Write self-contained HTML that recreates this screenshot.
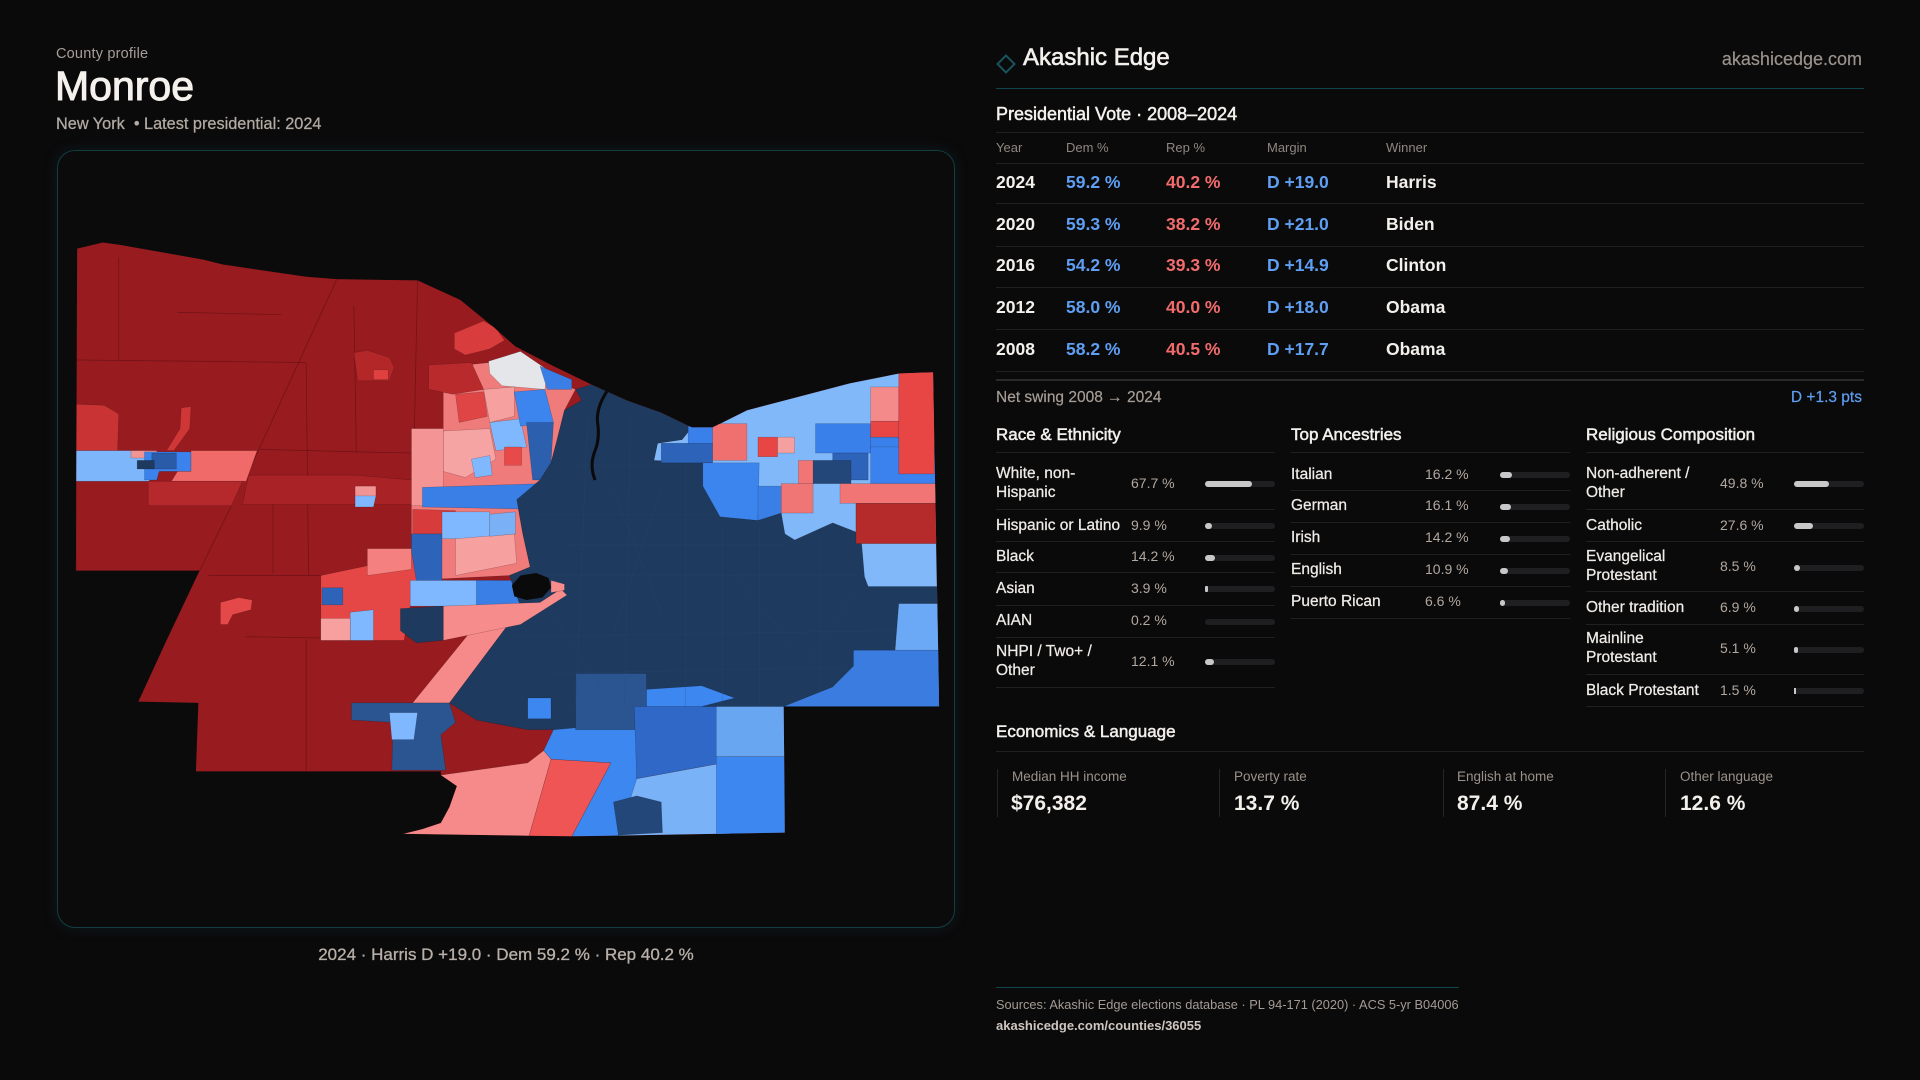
<!DOCTYPE html>
<html><head><meta charset="utf-8">
<style>
*{margin:0;padding:0;box-sizing:border-box}
body{width:1920px;height:1080px;background:#0b0a0b;overflow:hidden;position:relative;font-family:"Liberation Sans",sans-serif;color:#f2eeea}
.t{position:absolute;white-space:nowrap;line-height:1}
.w{color:#f3f0ec}
.g{color:#9a938b}
.b{color:#5e9ff3}
.r{color:#f26c6c}
.bold{font-weight:700}
.sec{font-size:17px;-webkit-text-stroke:0.5px #f3f0ec;color:#f3f0ec}
.hl{position:absolute;height:1px;background:#201f22}
.lab{position:absolute;font-size:15.5px;line-height:19px;color:#efebe7;-webkit-text-stroke:0.25px #efebe7;white-space:nowrap}
.val{position:absolute;font-size:14px;line-height:19px;color:#b1a89f;white-space:nowrap}
.bar{position:absolute;height:6px;border-radius:3px;background:#1f1e21;width:70px}
.bar i{position:absolute;left:0;top:0;height:6px;border-radius:3px;background:#c8c8c8;display:block}
.row{position:absolute;font-size:17.5px;font-weight:700}
.hd{position:absolute;font-size:13px;line-height:1;color:#8e877f}
.vd{position:absolute;width:1px;background:#252427;top:769px;height:48px}
.el{position:absolute;font-size:13.5px;line-height:1;color:#9a928a}
.ev{position:absolute;font-size:21px;line-height:1;font-weight:700;color:#f3f0ec}
</style></head><body>

<!-- Left header -->
<div class="t" style="left:56px;top:46.5px;font-size:14.5px;color:#a69e96;letter-spacing:0.2px">County profile</div>
<div class="t" style="left:55px;top:66px;font-size:41px;color:#f5f2ee;-webkit-text-stroke:1px #f5f2ee">Monroe</div>
<div class="t" style="left:56px;top:116.2px;font-size:16.3px;color:#b3aba3;-webkit-text-stroke:0.25px #b3aba3">New York &nbsp;• Latest presidential: 2024</div>

<!-- Map box -->
<div style="position:absolute;left:57px;top:150px;width:898px;height:778px;border:1px solid #123d43;border-radius:18px;background:#0c0b0c;box-shadow:0 0 14px rgba(18,70,80,0.25)"></div>

<svg style="position:absolute;left:0;top:0" width="1920" height="1080" viewBox="0 0 1568 882">
<defs><clipPath id="c"><polygon points="63,203 84,198 98,200 166,212 182,216 250,226 275,228 341,229 376,245 403,267 421,283 450,298 483,314 512,327 540,337 565,349 582,349 610,335 652,324 694,313 734,305 762,304 767,577 640,577 641,680 467,683 329,681 345,677 360,672 367,659 373,642 360,633 360,630 160,630 162,574 113,573 136,523 163,466 62,466"/></clipPath>
<clipPath id="n"><polygon points="470,318 483,314 512,327 540,337 565,349 557,359 537,362 534,376 582,378 574,397 588,422 619,425 638,419 641,436 649,441 680,427 703,436 706,471 709,479 767,479 767,493 734,493 731,531 697,544 680,561 640,577 470,577 470,596 431,596 389,588 367,574 418,506 425,495 416,470 433,463 427,436 422,408 441,392 450,378 455,359 461,335 475,327"/></clipPath></defs>
<polygon points="63,203 84,198 98,200 166,212 182,216 250,226 275,228 341,229 376,245 403,267 421,283 450,298 483,314 512,327 540,337 565,349 582,349 610,335 652,324 694,313 734,305 762,304 767,577 640,577 641,680 467,683 329,681 345,677 360,672 367,659 373,642 360,633 360,630 160,630 162,574 113,573 136,523 163,466 62,466" fill="#981b1f"/>
<g clip-path="url(#c)">
<g fill="none" stroke="#6e1317" stroke-width="0.6">
<polyline points="275,228 200,392"/><polyline points="189,413 163,466"/>
<polyline points="341,229 336,465"/><polyline points="62,294 250,296"/>
<polyline points="97,210 97,294"/><polyline points="212,367 336,370"/>
<polyline points="223,392 223,468"/><polyline points="289,250 291,370"/>
<polyline points="145,255 230,257"/><polyline points="62,294 62,466"/>
<polyline points="250,296 252,470"/><polyline points="170,470 330,470"/>
<polyline points="200,520 330,522"/><polyline points="250,522 250,630"/>
</g>
<g stroke="#0b0a0b" stroke-opacity="0.3" stroke-width="0.4">
<polygon points="62,330 85,331 97,338 96,368 62,368" fill="#c93333"/>
<polygon points="148,333 156,332 155,350 142,368 136,368 147,350" fill="#cf3636"/>
<polygon points="61,368 122,368 122,393 61,393" fill="#7db6fa"/>
<polygon points="107,368 128,368 128,374 107,374" fill="#f39494"/>
<polygon points="118,369 156,369 156,385 130,385 128,392 118,392" fill="#3b82ec"/>
<polygon points="124,370 144,370 144,383 124,383" fill="#2a5ba8"/>
<polygon points="112,376 126,376 126,383 112,383" fill="#1e3a5f"/>
<polygon points="156,368 210,368 201,393 140,393 145,385 156,385" fill="#f06a6a"/>
<polygon points="121,393 198,393 189,413 121,413" fill="#b5282b"/>
<polygon points="203,388 290,388 336,392 337,412 198,412" fill="#a82226"/>
<polygon points="290,397 307,397 307,406 290,406" fill="#f39494"/>
<polygon points="290,405 307,405 305,414 290,414" fill="#80b8ff"/>
<polygon points="289,288 300,286 318,292 322,300 318,311 292,311" fill="#b32729"/>
<polygon points="305,302 317,302 317,310 305,310" fill="#e04040"/>
<polygon points="180,492 195,488 206,490 205,498 190,502 186,510 180,510" fill="#e44848"/>
<polygon points="371,272 395,262 405,268 412,278 400,285 380,290 371,285" fill="#d83c3c"/>
<!-- transition -->
<polygon points="362,300 400,296 440,306 470,318 461,335 455,359 450,378 441,392 422,408 427,436 433,463 416,470 336,474 336,350 362,350" fill="#ef7b7b"/>
<polygon points="350,298 385,296 395,318 370,322 350,318" fill="#b82a2c"/>
<polygon points="372,322 395,320 398,340 375,345" fill="#e04545"/>
<polygon points="395,318 420,316 420,340 400,345" fill="#f6a0a0"/>
<polygon points="362,352 400,350 405,375 380,390 362,385" fill="#f5a3a3"/>
<polygon points="400,345 425,342 430,365 405,368" fill="#80b8ff"/>
<polygon points="385,375 400,372 402,388 388,390" fill="#80b8ff"/>
<polygon points="420,320 445,318 452,345 425,348" fill="#3d85ee"/>
<polygon points="430,345 452,345 450,378 441,392 435,392" fill="#2c5fae"/>
<polygon points="412,365 426,365 426,380 412,380" fill="#e84a4a"/>
<polygon points="399,295 425,287 447,302 445,318 410,315 400,305" fill="#e4e6e9"/>
<polygon points="441,299 467,310 467,318 447,318" fill="#3b7fe6"/>
<polygon points="336,350 362,350 362,413 336,413" fill="#f49494"/>
<polygon points="345,398 442,395 442,416 345,414" fill="#3a7fe6"/>
<polygon points="337,416 372,417 372,436 337,436" fill="#d83b3b"/>
<polygon points="336,436 361,436 361,474 336,474" fill="#2d63b8"/>
<polygon points="361,418 400,418 400,440 361,440" fill="#80b8ff"/>
<polygon points="372,440 420,436 422,460 372,470" fill="#f6a0a0"/>
<polygon points="400,420 421,418 421,436 400,438" fill="#7ab0f5"/>
<!-- R1 region -->
<polygon points="262,470 300,462 336,450 340,474 335,495 330,523 262,523" fill="#e54646"/>
<polygon points="263,480 280,480 280,494 263,494" fill="#2d63b8"/>
<polygon points="300,448 336,448 336,465 300,470" fill="#f48080"/>
<polygon points="286,500 305,498 305,523 286,523" fill="#80b8ff"/>
<polygon points="262,505 286,505 286,523 262,523" fill="#f6a0a0"/>
<polygon points="335,474 403,474 403,495 335,495" fill="#80b8ff"/>
<polygon points="389,474 441,474 441,492 389,495" fill="#3a7fe6"/>
<!-- east base -->
<polygon points="565,349 582,349 610,335 652,324 694,313 734,305 762,304 767,577 640,577 640,440 560,440 534,376 537,362 557,359" fill="#80b8fa"/>
<!-- navy -->
<polygon points="470,318 483,314 512,327 540,337 565,349 557,359 537,362 534,376 582,378 574,397 588,422 619,425 638,419 641,436 649,441 680,427 703,436 706,471 709,479 767,479 767,493 734,493 731,531 697,544 680,561 640,577 470,577 470,596 431,596 389,588 367,574 418,506 425,495 416,470 433,463 427,436 422,408 441,392 450,378 455,359 461,335 475,327" fill="#1e3a5f"/>
<!-- east overlays -->
<polygon points="562,348 585,348 585,365 562,365" fill="#3a80ea"/>
<polygon points="540,362 582,362 582,378 540,378" fill="#2d63b8"/>
<polygon points="574,378 620,378 619,425 588,422 574,397" fill="#3d85ee"/>
<polygon points="619,397 638,397 638,419 619,425" fill="#3a7fe6"/>
<polygon points="666,346 711,346 711,370 666,370" fill="#3a80ea"/>
<polygon points="680,370 709,370 709,392 680,392" fill="#2d63b8"/>
<polygon points="711,357 734,357 734,367 711,367" fill="#3a80ea"/>
<polygon points="711,365 767,365 767,395 711,395" fill="#3b82ee"/>
<polygon points="664,376 695,376 695,395 664,395" fill="#24477a"/>
<polygon points="711,316 734,316 734,344 711,344" fill="#f48a8a"/>
<polygon points="734,304 763,304 763,387 734,387" fill="#e84545"/>
<polygon points="711,344 734,344 734,357 711,357" fill="#e84545"/>
<polygon points="582,346 610,346 610,376 582,376" fill="#f07070"/>
<polygon points="619,357 635,357 635,373 619,373" fill="#e84545"/>
<polygon points="635,357 649,357 649,370 635,370" fill="#f5a0a0"/>
<polygon points="652,376 664,376 664,395 652,395" fill="#f27575"/>
<polygon points="638,395 664,395 664,419 638,419" fill="#f07575"/>
<polygon points="686,395 767,395 767,411 686,411" fill="#f27575"/>
<polygon points="699,411 767,411 767,444 699,444" fill="#b52a2a"/>
<polygon points="734,493 767,493 767,531 731,531" fill="#6ba8f5"/>
<polygon points="697,531 767,531 767,577 640,577 680,561 697,544" fill="#3a7ce0"/>
<!-- south -->
<polygon points="287,574 367,574 372,590 360,600 364,629 320,629 321,590 287,588" fill="#2a5590"/>
<polygon points="318,582 341,582 338,604 320,604" fill="#80b8ff"/>
<polygon points="337,574 389,510 418,506 367,574" fill="#f68a8a"/>
<polygon points="360,633 431,623 444,613 450,620 432,683 329,681 345,677 360,672 367,659 373,642" fill="#f68a8a"/>
<polygon points="450,620 499,623 467,683 432,683" fill="#f05555"/>
<polygon points="452,596 520,590 520,650 505,683 467,683 499,623 450,620 444,613" fill="#3d87f0"/>
<polygon points="470,550 528,550 528,596 470,596" fill="#2a5590"/>
<polygon points="431,570 450,570 450,587 431,587" fill="#3d87f0"/>
<polygon points="528,563 573,560 600,570 573,577 528,577" fill="#3d87f0"/>
<polygon points="518,577 596,577 596,622 520,636" fill="#3068c8"/>
<polygon points="520,636 596,622 596,683 505,683" fill="#7ab2f7"/>
<polygon points="501,655 520,650 540,655 541,680 505,682" fill="#24477a"/>
<polygon points="585,577 641,577 641,618 585,618" fill="#69a6f2"/>
<polygon points="585,618 641,618 641,683 585,683" fill="#3d87f0"/>
<!-- lake area -->
<polygon points="362,495 441,492 458,481 463,486 425,510 362,523" fill="#f68c8c"/>
<polygon points="327,497 362,495 362,523 340,525 327,515" fill="#1e3a5f"/>
<polygon points="450,474 461,477 461,482 450,484" fill="#f68c8c"/>
</g>
<!-- navy tract texture (subtle) -->
<g clip-path="url(#n)" fill="none" stroke="#2b4b78" stroke-width="0.4" stroke-opacity="0.45">
<polyline points="440,420 600,420"/><polyline points="430,470 700,470"/><polyline points="420,520 730,515"/>
<polyline points="450,550 690,545"/><polyline points="470,380 560,380"/><polyline points="460,445 640,445"/>
<polyline points="480,340 470,580"/><polyline points="560,380 560,580"/><polyline points="620,430 620,580"/>
<polyline points="670,440 670,570"/><polyline points="515,340 510,580"/><polyline points="590,430 590,580"/>
<polyline points="500,400 540,500"/><polyline points="540,400 500,520"/><polyline points="450,500 490,560"/>
<polyline points="600,470 650,530"/><polyline points="700,480 660,540"/>
</g>
<polygon points="418,478 425,470 438,468 448,472 450,480 443,488 430,490 420,487" fill="#0b0a0b"/>
<path d="M 500 312 L 493 324 Q 487 335 488 345 Q 490 358 486 368 Q 481 380 486 392" fill="none" stroke="#0b0a0b" stroke-width="2.5"/>
</g>
</svg>

<div class="t" style="left:57px;width:898px;text-align:center;top:945.6px;font-size:17px;color:#b8b0a8;-webkit-text-stroke:0.3px #b8b0a8">2024 · Harris D +19.0 · Dem 59.2 % · Rep 40.2 %</div>

<!-- Right header -->
<div style="position:absolute;left:999px;top:57px;width:14px;height:14px;border:2px solid #17555c;transform:rotate(45deg)"></div>
<div class="t" style="left:1023px;top:45.7px;font-size:24px;color:#f4f1ed;-webkit-text-stroke:0.6px #f4f1ed">Akashic Edge</div>
<div class="t" style="right:58px;top:49.8px;font-size:18px;color:#9a938c;-webkit-text-stroke:0.2px #9a938c">akashicedge.com</div>
<div style="position:absolute;left:996px;top:88px;width:868px;height:1px;background:#0f454b"></div>

<div class="t" style="left:996px;top:104.5px;font-size:18px;color:#f4f1ed;-webkit-text-stroke:0.5px #f4f1ed">Presidential Vote · 2008–2024</div>
<div class="hl" style="left:996px;top:132px;width:868px"></div>
<div class="hd" style="left:996px;top:140.7px">Year</div>
<div class="hd" style="left:1066px;top:140.7px">Dem %</div>
<div class="hd" style="left:1166px;top:140.7px">Rep %</div>
<div class="hd" style="left:1267px;top:140.7px">Margin</div>
<div class="hd" style="left:1386px;top:140.7px">Winner</div>
<div class="hl" style="left:996px;top:163px;width:868px"></div>

<div class="row w" style="left:996px;top:174.2px;line-height:1">2024</div>
<div class="row b" style="left:1066px;top:174.2px;line-height:1">59.2 %</div>
<div class="row r" style="left:1166px;top:174.2px;line-height:1">40.2 %</div>
<div class="row b" style="left:1267px;top:174.2px;line-height:1">D +19.0</div>
<div class="row w" style="left:1386px;top:174.2px;line-height:1">Harris</div>
<div class="hl" style="left:996px;top:203px;width:868px"></div>

<div class="row w" style="left:996px;top:215.8px;line-height:1">2020</div>
<div class="row b" style="left:1066px;top:215.8px;line-height:1">59.3 %</div>
<div class="row r" style="left:1166px;top:215.8px;line-height:1">38.2 %</div>
<div class="row b" style="left:1267px;top:215.8px;line-height:1">D +21.0</div>
<div class="row w" style="left:1386px;top:215.8px;line-height:1">Biden</div>
<div class="hl" style="left:996px;top:246px;width:868px"></div>

<div class="row w" style="left:996px;top:257.4px;line-height:1">2016</div>
<div class="row b" style="left:1066px;top:257.4px;line-height:1">54.2 %</div>
<div class="row r" style="left:1166px;top:257.4px;line-height:1">39.3 %</div>
<div class="row b" style="left:1267px;top:257.4px;line-height:1">D +14.9</div>
<div class="row w" style="left:1386px;top:257.4px;line-height:1">Clinton</div>
<div class="hl" style="left:996px;top:287px;width:868px"></div>

<div class="row w" style="left:996px;top:299px;line-height:1">2012</div>
<div class="row b" style="left:1066px;top:299px;line-height:1">58.0 %</div>
<div class="row r" style="left:1166px;top:299px;line-height:1">40.0 %</div>
<div class="row b" style="left:1267px;top:299px;line-height:1">D +18.0</div>
<div class="row w" style="left:1386px;top:299px;line-height:1">Obama</div>
<div class="hl" style="left:996px;top:328.5px;width:868px"></div>

<div class="row w" style="left:996px;top:340.6px;line-height:1">2008</div>
<div class="row b" style="left:1066px;top:340.6px;line-height:1">58.2 %</div>
<div class="row r" style="left:1166px;top:340.6px;line-height:1">40.5 %</div>
<div class="row b" style="left:1267px;top:340.6px;line-height:1">D +17.7</div>
<div class="row w" style="left:1386px;top:340.6px;line-height:1">Obama</div>
<div class="hl" style="left:996px;top:370.5px;width:868px"></div>
<div style="position:absolute;left:996px;top:379px;width:868px;height:2px;background:#2a292c"></div>

<div class="t" style="left:996px;top:390.2px;font-size:15.5px;color:#a69e96;-webkit-text-stroke:0.2px #a69e96">Net swing 2008 <span style="font-weight:700">→</span> 2024</div>
<div class="t b" style="right:58px;top:390.2px;font-size:15.5px;-webkit-text-stroke:0.2px #5e9ff3">D +1.3 pts</div>

<!-- Section titles -->
<div class="t sec" style="left:996px;top:425.6px">Race &amp; Ethnicity</div>
<div class="t sec" style="left:1291px;top:425.6px">Top Ancestries</div>
<div class="t sec" style="left:1586px;top:425.6px">Religious Composition</div>
<div class="hl" style="left:996px;top:452px;width:279px"></div>
<div class="hl" style="left:1291px;top:452px;width:279px"></div>
<div class="hl" style="left:1586px;top:452px;width:278px"></div>

<!-- Race -->
<div class="lab" style="left:996px;top:464.4px">White, non-<br>Hispanic</div>
<div class="val" style="left:1131px;top:473.6px">67.7 %</div>
<div class="bar" style="left:1205px;top:481px"><i style="width:47px"></i></div>
<div class="hl" style="left:996px;top:509px;width:279px"></div>

<div class="lab" style="left:996px;top:515.7px">Hispanic or Latino</div>
<div class="val" style="left:1131px;top:515.7px">9.9 %</div>
<div class="bar" style="left:1205px;top:523px"><i style="width:7px"></i></div>
<div class="hl" style="left:996px;top:541px;width:279px"></div>

<div class="lab" style="left:996px;top:547.4px">Black</div>
<div class="val" style="left:1131px;top:547.4px">14.2 %</div>
<div class="bar" style="left:1205px;top:555px"><i style="width:10px"></i></div>
<div class="hl" style="left:996px;top:572px;width:279px"></div>

<div class="lab" style="left:996px;top:579px">Asian</div>
<div class="val" style="left:1131px;top:579px">3.9 %</div>
<div class="bar" style="left:1205px;top:586px"><i style="width:2.5px;border-radius:1px"></i></div>
<div class="hl" style="left:996px;top:605px;width:279px"></div>

<div class="lab" style="left:996px;top:611.4px">AIAN</div>
<div class="val" style="left:1131px;top:611.4px">0.2 %</div>
<div class="bar" style="left:1205px;top:619px"></div>
<div class="hl" style="left:996px;top:637px;width:279px"></div>

<div class="lab" style="left:996px;top:641.8px">NHPI / Two+ /<br>Other</div>
<div class="val" style="left:1131px;top:652px">12.1 %</div>
<div class="bar" style="left:1205px;top:659px"><i style="width:8.5px"></i></div>
<div class="hl" style="left:996px;top:687px;width:279px"></div>

<!-- Ancestries -->
<div class="lab" style="left:1291px;top:464.7px">Italian</div>
<div class="val" style="left:1425px;top:464.7px">16.2 %</div>
<div class="bar" style="left:1500px;top:472px"><i style="width:11.5px"></i></div>
<div class="hl" style="left:1291px;top:490px;width:279px"></div>

<div class="lab" style="left:1291px;top:496.4px">German</div>
<div class="val" style="left:1425px;top:496.4px">16.1 %</div>
<div class="bar" style="left:1500px;top:504px"><i style="width:11.3px"></i></div>
<div class="hl" style="left:1291px;top:522px;width:279px"></div>

<div class="lab" style="left:1291px;top:528.4px">Irish</div>
<div class="val" style="left:1425px;top:528.4px">14.2 %</div>
<div class="bar" style="left:1500px;top:536px"><i style="width:10px"></i></div>
<div class="hl" style="left:1291px;top:554px;width:279px"></div>

<div class="lab" style="left:1291px;top:560.4px">English</div>
<div class="val" style="left:1425px;top:560.4px">10.9 %</div>
<div class="bar" style="left:1500px;top:568px"><i style="width:7.6px"></i></div>
<div class="hl" style="left:1291px;top:586px;width:279px"></div>

<div class="lab" style="left:1291px;top:592.4px">Puerto Rican</div>
<div class="val" style="left:1425px;top:592.4px">6.6 %</div>
<div class="bar" style="left:1500px;top:600px"><i style="width:4.6px"></i></div>
<div class="hl" style="left:1291px;top:618px;width:279px"></div>

<!-- Religion -->
<div class="lab" style="left:1586px;top:464.4px">Non-adherent /<br>Other</div>
<div class="val" style="left:1720px;top:474px">49.8 %</div>
<div class="bar" style="left:1794px;top:481px"><i style="width:35px"></i></div>
<div class="hl" style="left:1586px;top:509px;width:278px"></div>

<div class="lab" style="left:1586px;top:515.7px">Catholic</div>
<div class="val" style="left:1720px;top:515.7px">27.6 %</div>
<div class="bar" style="left:1794px;top:523px"><i style="width:19.3px"></i></div>
<div class="hl" style="left:1586px;top:541px;width:278px"></div>

<div class="lab" style="left:1586px;top:547.1px">Evangelical<br>Protestant</div>
<div class="val" style="left:1720px;top:557.2px">8.5 %</div>
<div class="bar" style="left:1794px;top:565px"><i style="width:6px"></i></div>
<div class="hl" style="left:1586px;top:591px;width:278px"></div>

<div class="lab" style="left:1586px;top:598.4px">Other tradition</div>
<div class="val" style="left:1720px;top:598.4px">6.9 %</div>
<div class="bar" style="left:1794px;top:606px"><i style="width:4.8px"></i></div>
<div class="hl" style="left:1586px;top:624px;width:278px"></div>

<div class="lab" style="left:1586px;top:628.8px">Mainline<br>Protestant</div>
<div class="val" style="left:1720px;top:639px">5.1 %</div>
<div class="bar" style="left:1794px;top:647px"><i style="width:3.6px"></i></div>
<div class="hl" style="left:1586px;top:674px;width:278px"></div>

<div class="lab" style="left:1586px;top:680.7px">Black Protestant</div>
<div class="val" style="left:1720px;top:680.7px">1.5 %</div>
<div class="bar" style="left:1794px;top:688px"><i style="width:1.5px;border-radius:0"></i></div>
<div class="hl" style="left:1586px;top:706px;width:278px"></div>

<!-- Economics -->
<div class="t sec" style="left:996px;top:722.9px">Economics &amp; Language</div>
<div class="hl" style="left:996px;top:750.5px;width:868px"></div>
<div class="vd" style="left:997px"></div>
<div class="vd" style="left:1219px"></div>
<div class="vd" style="left:1443px"></div>
<div class="vd" style="left:1665px"></div>
<div class="el" style="left:1012px;top:770.3px">Median HH income</div>
<div class="el" style="left:1234px;top:770.3px">Poverty rate</div>
<div class="el" style="left:1457px;top:770.3px">English at home</div>
<div class="el" style="left:1680px;top:770.3px">Other language</div>
<div class="ev" style="left:1011px;top:793.2px">$76,382</div>
<div class="ev" style="left:1234px;top:793.2px">13.7 %</div>
<div class="ev" style="left:1457px;top:793.2px">87.4 %</div>
<div class="ev" style="left:1680px;top:793.2px">12.6 %</div>

<!-- Footer -->
<div style="position:absolute;left:996px;top:987px;width:463px;height:1px;background:#0f454b"></div>
<div class="t" style="left:996px;top:998.5px;font-size:12.8px;color:#a39b93">Sources: Akashic Edge elections database · PL 94-171 (2020) · ACS 5-yr B04006</div>
<div class="t" style="left:996px;top:1019px;font-size:13px;font-weight:700;color:#cfc7bf">akashicedge.com/counties/36055</div>

</body></html>
